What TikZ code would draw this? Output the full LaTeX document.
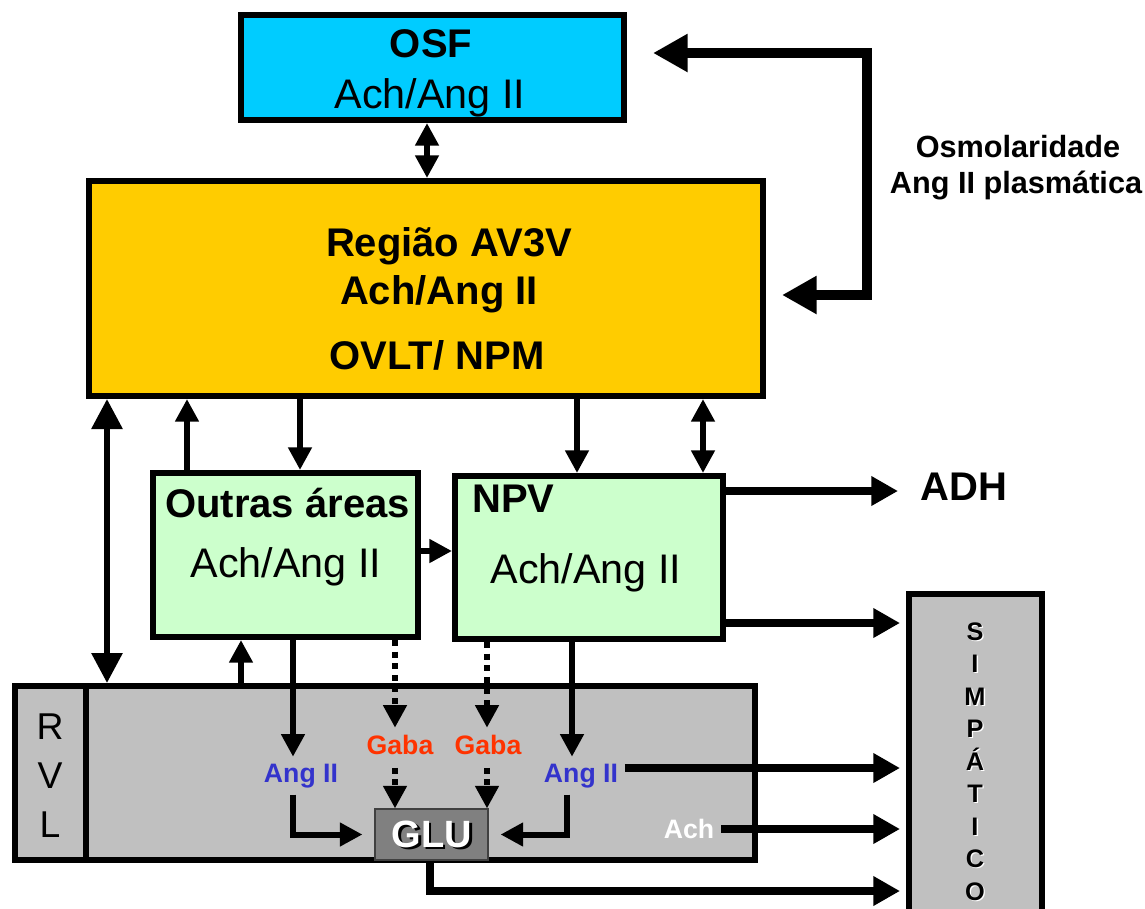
\documentclass[tikz,border=0pt]{standalone}
\usepackage{fontspec}
\setmainfont{Liberation Sans}
\usetikzlibrary{arrows.meta}
\definecolor{osfc}{HTML}{00CCFF}
\definecolor{avc}{HTML}{FFCC00}
\definecolor{grc}{HTML}{CCFFCC}
\definecolor{gyc}{HTML}{C0C0C0}
\definecolor{gluc}{HTML}{808080}
\definecolor{angc}{HTML}{3333CC}
\definecolor{gabac}{HTML}{FF3300}
\newcommand{\shadowtext}[3]{\makebox[0pt][l]{\kern#2\raisebox{-#2}{\color{#3}#1}}#1}
\begin{document}
\begin{tikzpicture}[x=0.75pt,y=-0.75pt,
  box/.style={draw=black, line width=4.5pt, rectangle, inner sep=0pt},
  bigb/.style={font=\bfseries\fontsize{30}{34}\selectfont, inner sep=0pt, anchor=base},
  bigr/.style={font=\fontsize{31}{36}\selectfont, inner sep=0pt, anchor=base},
  lbl/.style={font=\bfseries\fontsize{20}{24}\selectfont, inner sep=5pt, anchor=base},
  sfont/.style={font=\bfseries\fontsize{19}{22}\selectfont, inner sep=0pt, anchor=base},
  midarr/.style={line width=4.5pt, -{Triangle[length=17pt,width=17pt]}},
  middbl/.style={line width=4.5pt, {Triangle[length=17pt,width=17pt]}-{Triangle[length=17pt,width=17pt]}},
  bigdbl/.style={line width=4.5pt, {Triangle[length=22.5pt,width=22.5pt]}-{Triangle[length=22.5pt,width=22.5pt]}},
  dsh/.style={line width=4.5pt, dash pattern=on 4.5pt off 4.2pt, -{Triangle[length=17pt,width=17pt]}},
  rarr/.style={line width=5.5pt, -{Triangle[length=20pt,width=21pt]}},
  fbarr/.style={line width=8pt, {Triangle[length=26pt,width=27pt]}-{Triangle[length=26pt,width=27pt]}},
]
\useasboundingbox (0,0) rectangle (1145,908);
\clip (0,0) rectangle (1145,908);

% boxes
\node[box, fill=osfc, minimum width=287.25pt, minimum height=78.75pt] (osf) at (432.5,67.5) {};
\node[box, fill=avc, minimum width=505.5pt, minimum height=161.25pt] (av) at (426,288.5) {};
\node[box, fill=grc, minimum width=198.75pt, minimum height=123pt] (outras) at (285.5,555) {};
\node[box, fill=grc, minimum width=201pt, minimum height=122.25pt] (npv) at (589,557.5) {};
\node[box, fill=gyc, minimum width=555pt, minimum height=130.5pt] (rvl) at (385,773) {};
\node[box, fill=gyc, minimum width=99.75pt, minimum height=272.25pt] (simp) at (975.5,775.5) {};
\node[draw=black!75, line width=0.8pt, fill=gluc, minimum width=84.75pt, minimum height=38.25pt, inner sep=0pt] (glu) at (431.5,834.5) {};
\draw[line width=4.5pt] (rvl.north -| 86,0) -- (rvl.south -| 86,0);

% texts
\node[bigb] (osft) at (431,57) {OSF};
\node[bigr] (osfs) at (430,108) {Ach/Ang II};
\node[bigb] (avt1) at (449,256) {Região AV3V};
\node[bigb] (avt2) at (439,304) {Ach/Ang II};
\node[bigb] (avt3) at (437,369) {OVLT/ NPM};
\node[bigb] (outt) at (287.5,517) {Outras áreas};
\node[bigr] (outs) at (286,577) {Ach/Ang II};
\node[bigb, anchor=base west] (npvt) at (472,512) {NPV};
\node[bigr] (npvs) at (586,583) {Ach/Ang II};
\node[bigb, anchor=base west] (adh) at (920,500) {ADH};
\node[font=\bfseries\fontsize{23}{28}\selectfont, anchor=base, inner sep=0pt] (osm1) at (1018,157) {Osmolaridade};
\node[font=\bfseries\fontsize{23}{28}\selectfont, anchor=base, inner sep=0pt] (osm2) at (1016,193) {Ang II plasmática};

\node[font=\fontsize{28}{32}\selectfont, anchor=base, inner sep=0pt] (rr) at (50,739) {R};
\node[font=\fontsize{28}{32}\selectfont, anchor=base, inner sep=0pt] (rv) at (50,788) {V};
\node[font=\fontsize{28}{32}\selectfont, anchor=base, inner sep=0pt] (rl) at (50,837) {L};

\node[lbl, text=angc] (angL) at (301,782) {Ang II};
\node[lbl, text=gabac] (gabaL) at (400,754) {Gaba};
\node[lbl, text=gabac] (gabaR) at (488,754) {Gaba};
\node[lbl, text=angc] (angR) at (581,782) {Ang II};
\node[lbl, text=white] (ach) at (689,838) {Ach};

\node[font=\bfseries\fontsize{28.5}{32}\selectfont, text=white, anchor=base, inner sep=0pt] (glut) at (432,847) {\shadowtext{GLU}{1.8pt}{black}};

\foreach \l [count=\i from 0] in {S,I,M,P,Á,T,I,C,O} {
  \node[sfont] (sl\i) at (975,{640+32.5*\i}) {\shadowtext{\l}{1pt}{white}};
}

% connectors
\coordinate (fbA) at (653,53);
\coordinate (fbB) at (782,295);
\draw[fbarr] (fbA) -| (867,0 |- fbB) -- (fbB);

\draw[middbl] (427,0 |- osf.south) -- (427,0 |- av.north);
\draw[bigdbl] (107,0 |- av.south) -- (107,0 |- rvl.north);
\draw[midarr] (187,0 |- outras.north) -- (187,0 |- av.south);
\draw[midarr] (300,0 |- av.south) -- (300,0 |- outras.north);
\draw[midarr] (577,0 |- av.south) -- (577,0 |- npv.north);
\draw[middbl] (703,0 |- npv.north) -- (703,0 |- av.south);
\draw[midarr] (outras.east |- 0,551) -- (npv.west |- 0,551);
\draw[rarr, shorten >=16.5pt] (npv.east |- 0,491) -- (adh.west |- 0,491);
\draw[rarr, shorten >=4.5pt] (npv.east |- 0,623) -- (simp.west |- 0,623);

\draw[midarr] (241,0 |- rvl.north) -- (241,0 |- outras.south);
\draw[midarr] (293,0 |- outras.south) -- (293,0 |- angL.north);
\draw[midarr] (572,0 |- npv.south) -- (572,0 |- angR.north);
\draw[midarr] (293,0 |- angL.south) |- ([xshift=-9pt]glu.west);
\draw[midarr] (567,0 |- angR.south) |- ([xshift=9pt]glu.east);

\draw[dsh] (395,0 |- outras.south) -- (gabaL.north -| 395,0);
\draw[dsh, shorten <=5pt] (gabaL.south -| 395,0) -- (glu.north -| 395,0);
\draw[dsh] (487,0 |- npv.south) -- (gabaR.north -| 487,0);
\draw[dsh, shorten <=5pt] (gabaR.south -| 487,0) -- (glu.north -| 487,0);

\draw[rarr, shorten >=4.5pt] (angR.east |- 0,768) -- (simp.west |- 0,768);
\draw[rarr, shorten >=4.5pt] (ach.east |- 0,829) -- (simp.west |- 0,829);
\draw[rarr, shorten >=4.5pt] (430,0 |- glu.south) |- (simp.west |- 0,891);
\end{tikzpicture}
\end{document}
